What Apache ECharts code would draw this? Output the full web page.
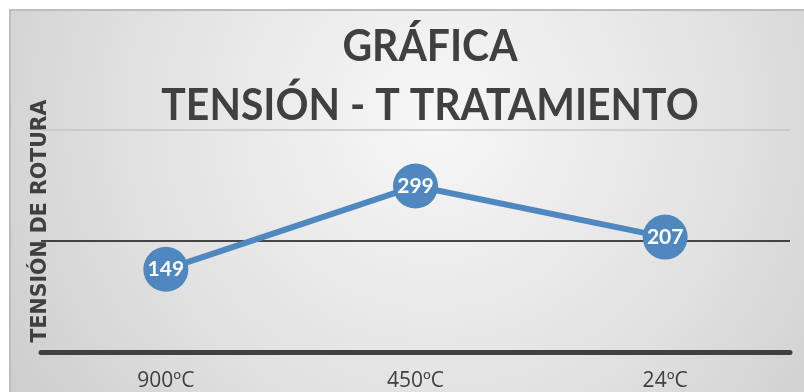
<!DOCTYPE html>
<html>
<head>
<meta charset="utf-8">
<script src="https://cdn.jsdelivr.net/npm/echarts@6/dist/echarts.min.js"></script>
<style>
  html, body { margin: 0; padding: 0; background: #ffffff; }
  #chart { width: 804px; height: 392px; }
</style>
</head>
<body>
<div id="chart"></div>
<script>
// Breaking stress by treatment temperature
const categories = ['900ºC', '450ºC', '24ºC'];
const tension = [149, 299, 207];
const yTicks = { min: 0, max: 400, interval: 200 };

const titleLines = ['GRÁFICA', 'TENSIÓN - T TRATAMIENTO'];
const yAxisName = 'TENSIÓN DE ROTURA';

const chart = echarts.init(document.getElementById('chart'), null, { renderer: 'canvas' });

const textDark = '#404040';
const lineBlue = '#4f88bf';

chart.setOption({
  backgroundColor: '#ffffff',
  animation: false,
  graphic: [
    {
      type: 'rect',
      z: -10,
      silent: true,
      shape: { x: 10, y: 10, width: 800, height: 390 },
      style: {
        fill: new echarts.graphic.RadialGradient(0.53, 0.28, 1.35, [
          { offset: 0, color: '#f7f7f7' },
          { offset: 0.55, color: '#e2e2e2' },
          { offset: 1, color: '#cbcbcb' }
        ]),
        stroke: '#bdbdbd',
        lineWidth: 2
      }
    },
    {
      // two-line heading, slightly condensed
      type: 'text',
      silent: true,
      x: 430,
      y: 17,
      scaleX: 0.93,
      style: {
        text: titleLines.join('\n'),
        align: 'center',
        verticalAlign: 'top',
        fontFamily: 'Lato',
        fontWeight: 'bold',
        fontSize: 44,
        lineHeight: 59,
        fill: textDark
      }
    },
    {
      // value-axis caption, rotated
      type: 'text',
      silent: true,
      x: 41,
      y: 221,
      rotation: Math.PI / 2,
      style: {
        text: yAxisName,
        align: 'center',
        verticalAlign: 'middle',
        fontFamily: 'DejaVu Sans',
        fontWeight: 'bold',
        fontSize: 20.5,
        fill: textDark
      }
    }
  ],
  grid: { left: 41, right: 14, top: 130, bottom: 38 },
  xAxis: {
    type: 'category',
    data: categories,
    boundaryGap: true,
    axisLine: { show: true, lineStyle: { color: '#404040', width: 5 } },
    axisTick: { show: false },
    axisLabel: {
      margin: 19,
      fontFamily: 'Open Sans',
      fontSize: 21,
      color: textDark
    }
  },
  yAxis: {
    type: 'value',
    min: yTicks.min,
    max: yTicks.max,
    interval: yTicks.interval,
    axisLine: { show: false },
    axisTick: { show: false },
    axisLabel: { show: false },
    splitLine: {
      show: true,
      showMinLine: false,
      lineStyle: { color: ['#111111', '#c4c4c4'], width: 1.6 }
    }
  },
  series: [
    {
      type: 'line',
      data: tension,
      symbol: 'circle',
      symbolSize: 45,
      itemStyle: { color: lineBlue },
      lineStyle: { color: lineBlue, width: 6 },
      label: {
        show: true,
        position: 'inside',
        fontFamily: 'Lato',
        fontWeight: 'bold',
        fontSize: 21,
        color: '#ffffff'
      },
      z: 3
    }
  ]
});
</script>
</body>
</html>
